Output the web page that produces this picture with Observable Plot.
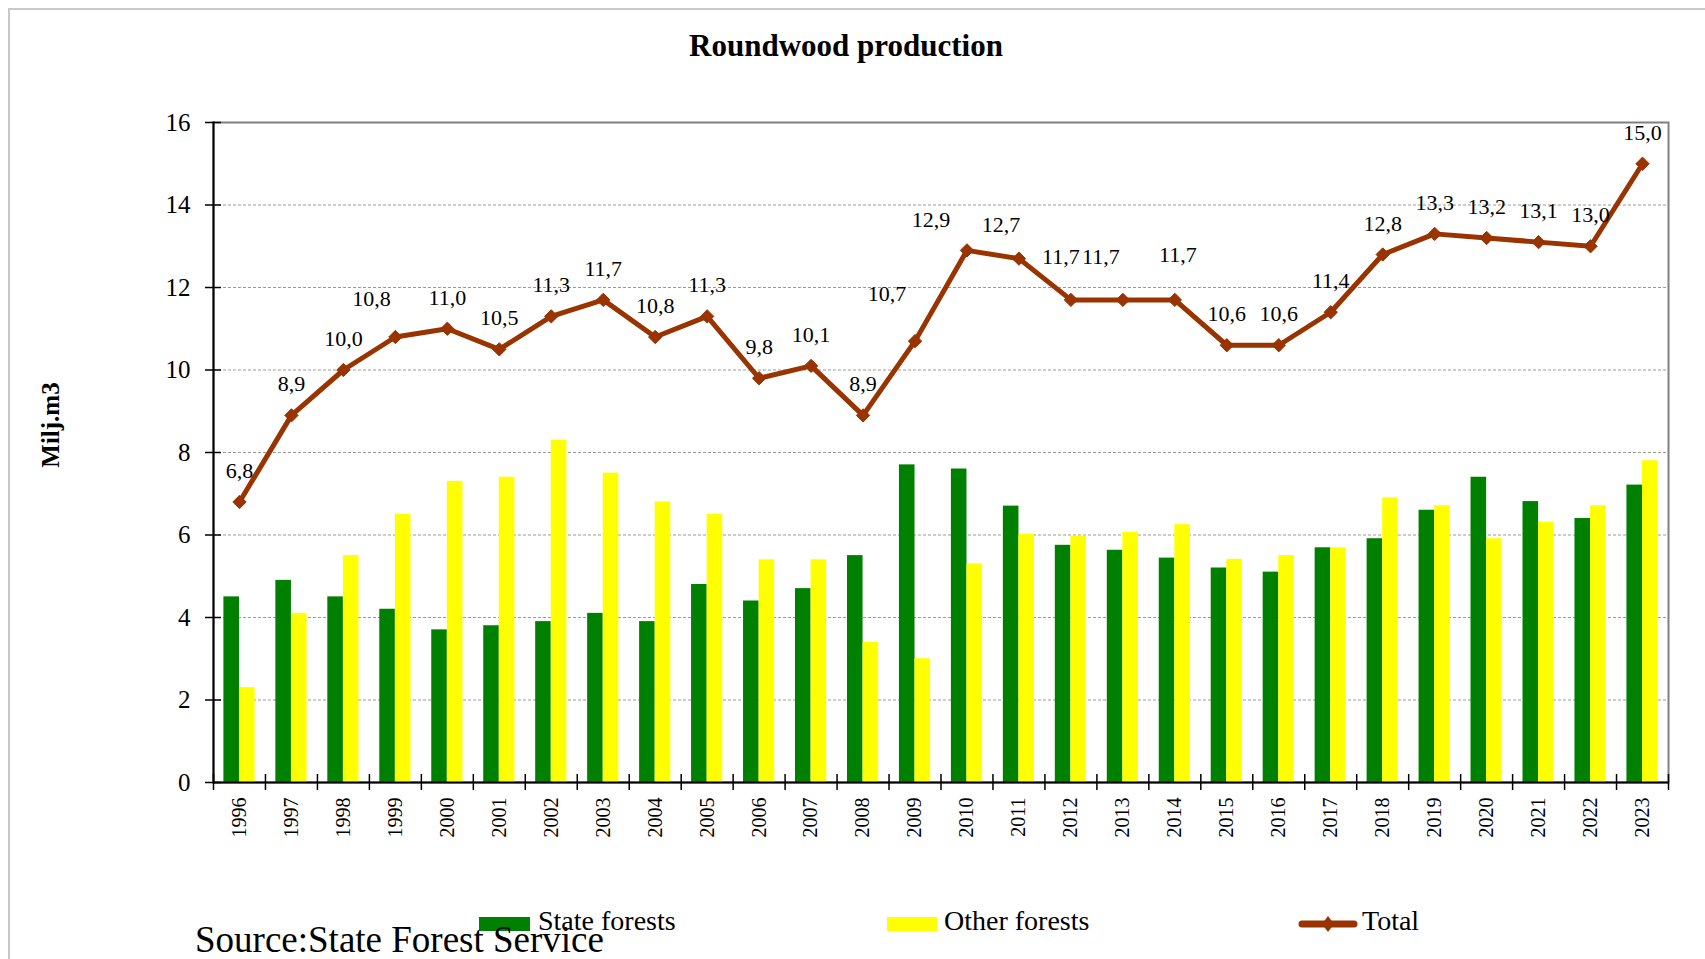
<!DOCTYPE html>
<html><head><meta charset="utf-8">
<script src="https://cdn.jsdelivr.net/npm/d3@7"></script>
<script src="https://cdn.jsdelivr.net/npm/@observablehq/plot@0.6"></script>
<style>
html,body{margin:0;padding:0;background:#fff;overflow:hidden}
#wrap{position:relative;width:1705px;height:959px;font-family:"Liberation Serif","Times New Roman",serif;color:#000;overflow:hidden}
#border{position:absolute;left:8px;top:8px;width:1720px;height:980px;border:2px solid #c8c8c8;box-sizing:border-box}
#chart{position:absolute;left:0;top:0}
#title{position:absolute;left:0;width:1692px;top:30px;text-align:center;font-weight:bold;font-size:31px;line-height:31px;white-space:nowrap}
#ylabel{position:absolute;left:50px;top:425px;transform:translate(-50%,-50%) rotate(-90deg);font-weight:bold;font-size:25px;line-height:25px;white-space:nowrap}
.leg{position:absolute;top:907px;font-size:28px;line-height:28px;white-space:nowrap}
.sw{position:absolute;top:917px;height:14px}
#source{position:absolute;left:195px;top:921px;font-size:37px;line-height:37px;white-space:nowrap}
</style></head>
<body>
<div id="wrap">
  <div id="border"></div>
  <div id="chart"></div>
  <div id="title">Roundwood production</div>
  <div id="ylabel">Milj.m3</div>
  <div class="sw" style="left:479px;width:51px;background:#008000"></div>
  <div class="leg" style="left:538px">State forests</div>
  <div class="sw" style="left:887px;width:50px;background:#ffff00"></div>
  <div class="leg" style="left:944px">Other forests</div>
  <svg style="position:absolute;left:1298px;top:914px" width="60" height="20">
    <line x1="4" y1="10" x2="56" y2="10" stroke="#993300" stroke-width="7" stroke-linecap="round"/>
    <path d="M30,2 L36,10 L30,18 L24,10 Z" fill="#993300"/>
  </svg>
  <div class="leg" style="left:1362px">Total</div>
  <div id="source">Source:State Forest Service</div>
</div>
<script>
const years = ["1996","1997","1998","1999","2000","2001","2002","2003","2004","2005","2006","2007","2008","2009","2010","2011","2012","2013","2014","2015","2016","2017","2018","2019","2020","2021","2022","2023"];
const stateForests = [4.5,4.9,4.5,4.2,3.7,3.8,3.9,4.1,3.9,4.8,4.4,4.7,5.5,7.7,7.6,6.7,5.75,5.63,5.44,5.2,5.1,5.69,5.91,6.6,7.4,6.81,6.4,7.21];
const otherForests = [2.3,4.1,5.5,6.5,7.3,7.4,8.3,7.5,6.8,6.5,5.4,5.4,3.4,3.0,5.3,6.02,5.97,6.06,6.25,5.41,5.5,5.69,6.9,6.71,5.91,6.31,6.71,7.8];
const total = [6.8,8.9,10.0,10.8,11.0,10.5,11.3,11.7,10.8,11.3,9.8,10.1,8.9,10.7,12.9,12.7,11.7,11.7,11.7,10.6,10.6,11.4,12.8,13.3,13.2,13.1,13.0,15.0];
const yTicks = [0,2,4,6,8,10,12,14,16];
const gridTicks = [2,4,6,8,10,12,14];

const rows = years.map((year, i) => ({year, state: stateForests[i], other: otherForests[i], total: total[i]}));

// label nudges (pixels) for labels that Excel placed off-centre
const labelShift = {"1999":[-24,-38],"2009":[-28,-47],"2010":[-36,-30],"2011":[-18,-34],"2012":[-10,-43],"2013":[-22,-43],"2014":[3,-45]};
const fmt = v => d3.format(".1f")(v).replace(".", ",");

const W = 1705, H = 959;
const mL = 213, mR = 37, mT = 122, mB = 177;
const bw = (W - mL - mR) / years.length;
const font = "Liberation Serif";
const brown = "#993300";

const textMarks = [
  Plot.text(rows.filter(d => !labelShift[d.year]), {x: "year", y: "total", text: d => fmt(d.total), dy: -31, fontSize: 22, fontFamily: font, fill: "#000"}),
  ...Object.entries(labelShift).map(([yr, [dx, dy]]) =>
    Plot.text(rows.filter(d => d.year === yr), {x: "year", y: "total", text: d => fmt(d.total), dx, dy, fontSize: 22, fontFamily: font, fill: "#000"}))
];

const chart = Plot.plot({
  width: W, height: H,
  marginLeft: mL, marginRight: mR, marginTop: mT, marginBottom: mB,
  style: {fontFamily: font, color: "#000", background: "transparent", overflow: "visible"},
  x: {type: "band", domain: years, padding: 0, round: false},
  y: {domain: [0, 16]},
  marks: [
    Plot.gridY(gridTicks, {stroke: "#9a9a9a", strokeOpacity: 1, strokeDasharray: "3,2"}),
    Plot.frame({stroke: "#808080", strokeWidth: 2}),
    Plot.barY(rows, {x: "year", y: "state", fill: "#008000", insetLeft: bw * 0.2, insetRight: bw * 0.5}),
    Plot.barY(rows, {x: "year", y: "other", fill: "#ffff00", insetLeft: bw * 0.5, insetRight: bw * 0.2}),
    Plot.ruleY([0], {stroke: "#000", strokeWidth: 2}),
    Plot.frame({anchor: "left", stroke: "#000", strokeWidth: 2}),
    Plot.axisY(yTicks, {tickSize: 16, dx: 8, tickPadding: 15, fontSize: 25, fontFamily: font, stroke: "#000", strokeWidth: 1.5, label: null}),
    Plot.axisX({tickSize: 16, dy: -8, dx: -bw / 2, tickFormat: () => "", stroke: "#000", strokeWidth: 1.5, label: null}),
    Plot.axisX([years[years.length - 1]], {tickSize: 16, dy: -8, dx: bw / 2, tickFormat: () => "", stroke: "#000", strokeWidth: 1.5, label: null}),
    Plot.axisX({tickSize: 0, tickRotate: -90, tickPadding: 15, fontSize: 20, fontFamily: font, label: null}),
    Plot.line(rows, {x: "year", y: "total", stroke: brown, strokeWidth: 5, strokeLinejoin: "round"}),
    Plot.dot(rows, {x: "year", y: "total", symbol: "diamond2", r: 6, fill: brown, stroke: brown, strokeWidth: 1}),
    ...textMarks
  ]
});
document.getElementById("chart").appendChild(chart);
</script>
</body></html>
